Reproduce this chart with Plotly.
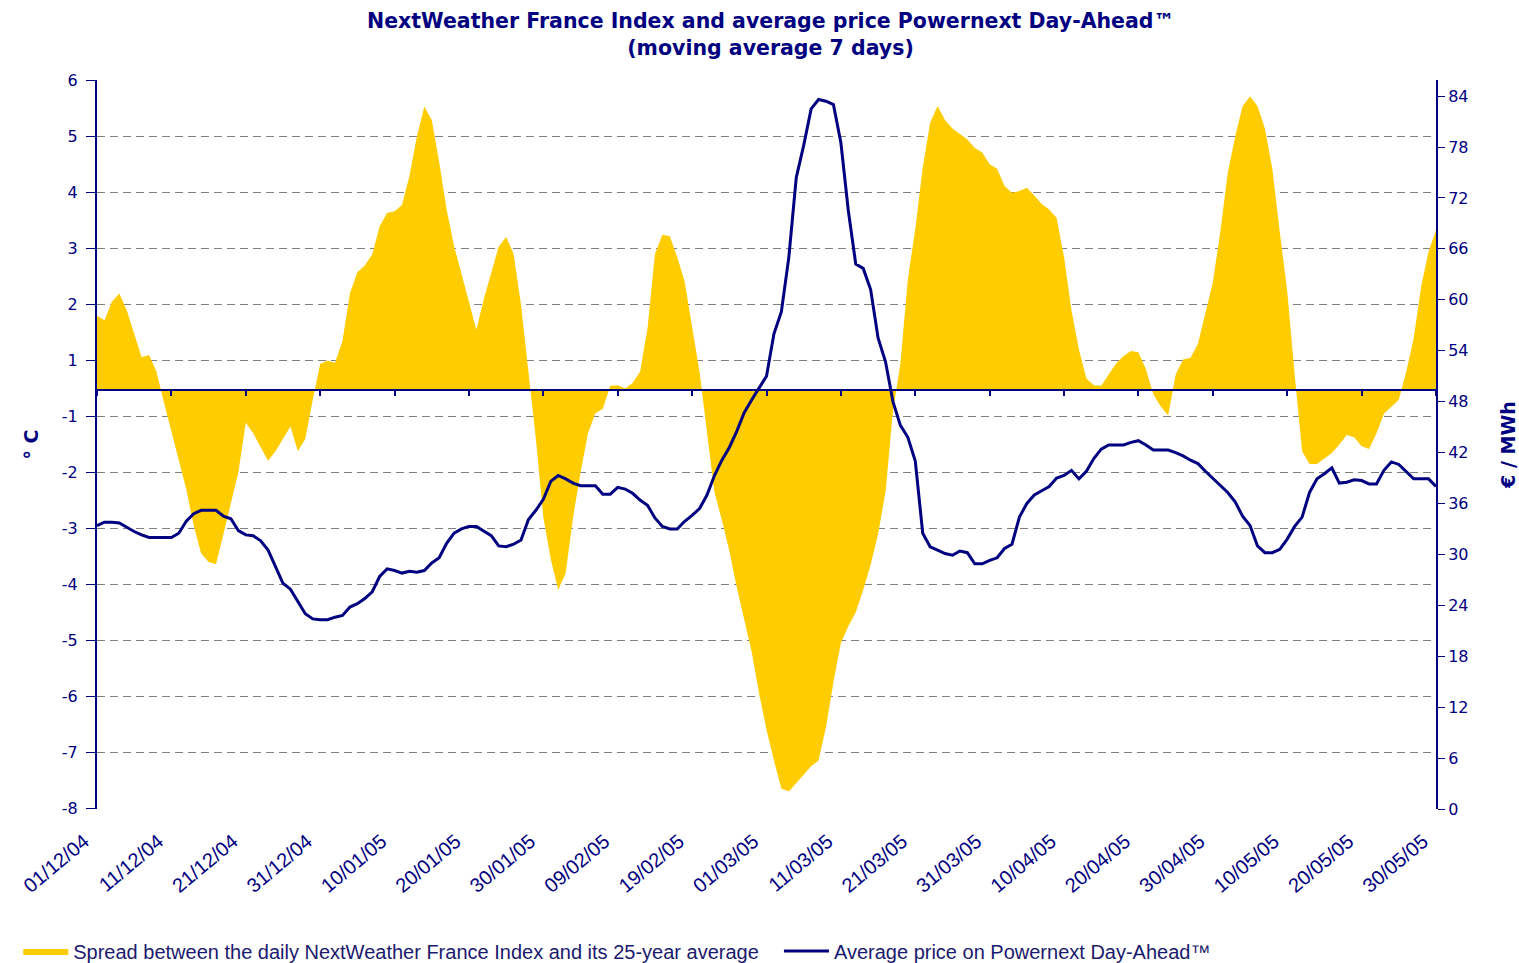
"""
NextWeather France Index spread vs. Powernext Day-Ahead average price
(7-day moving averages), Dec 2004 - May 2005.
"""

import pandas as pd
import plotly.graph_objects as go

NAVY = "#000080"
YELLOW = "#FFCC00"
GRID = "#808080"

# one reading per day, 01/12/2004 .. 30/05/2005
dates = pd.date_range("2004-12-01", "2005-05-30", freq="D")

# spread, read against the chart's left scale (the zero line sits half a
# grid step below "1"; the axis labels skip 0, see TEMP_TICKTEXT)
spread = [
    1.80, 1.72, 2.05, 2.20, 1.90, 1.48, 1.06, 1.10, 0.80, 0.25,
    -0.25, -0.75, -1.30, -1.95, -2.45, -2.60, -2.64, -2.10, -1.55, -1.00,
    -0.11, -0.30, -0.55, -0.79, -0.62, -0.40, -0.18, -0.62, -0.40, 0.30,
    0.94, 1.00, 0.96, 1.35, 2.20, 2.58, 2.70, 2.90, 3.40, 3.64,
    3.67, 3.78, 4.30, 5.00, 5.54, 5.30, 4.55, 3.70, 3.05, 2.55,
    2.05, 1.55, 2.10, 2.55, 3.04, 3.21, 2.91, 2.00, 0.80, -0.40,
    -1.80, -2.55, -3.10, -2.80, -1.80, -1.00, -0.30, 0.06, 0.14, 0.55,
    0.56, 0.50, 0.60, 0.80, 1.57, 2.90, 3.25, 3.22, 2.85, 2.41,
    1.60, 0.80, -0.28, -1.35, -1.85, -2.40, -3.05, -3.60, -4.20, -4.95,
    -5.60, -6.15, -6.65, -6.70, -6.55, -6.40, -6.25, -6.15, -5.55, -4.75,
    -4.05, -3.75, -3.50, -3.10, -2.65, -2.10, -1.35, 0.10, 0.95, 2.45,
    3.35, 4.45, 5.25, 5.55, 5.30, 5.15, 5.05, 4.95, 4.80, 4.72,
    4.51, 4.43, 4.12, 4.00, 4.03, 4.09, 3.95, 3.80, 3.70, 3.55,
    2.85, 1.90, 1.20, 0.68, 0.56, 0.55, 0.75, 0.95, 1.08, 1.17,
    1.15, 0.85, 0.40, 0.18, 0.02, 0.75, 1.02, 1.05, 1.30, 1.85,
    2.40, 3.30, 4.35, 5.00, 5.55, 5.72, 5.55, 5.15, 4.43, 3.30,
    2.24, 0.75, -0.62, -0.85, -0.85, -0.75, -0.65, -0.50, -0.33, -0.37,
    -0.53, -0.58, -0.30, 0.05, 0.18, 0.30, 0.80, 1.40, 2.32, 2.95,
    3.33,
]

# average Powernext Day-Ahead price, EUR/MWh
price = [
    33.4, 33.8, 33.8, 33.7, 33.2, 32.7, 32.3, 32.0, 32.0, 32.0,
    32.0, 32.5, 33.9, 34.8, 35.2, 35.2, 35.2, 34.5, 34.2, 32.8,
    32.3, 32.2, 31.6, 30.5, 28.5, 26.6, 25.9, 24.5, 23.0, 22.4,
    22.3, 22.3, 22.6, 22.8, 23.8, 24.2, 24.8, 25.6, 27.4, 28.3,
    28.1, 27.8, 28.0, 27.9, 28.1, 29.0, 29.6, 31.3, 32.5, 33.0,
    33.3, 33.3, 32.8, 32.2, 31.0, 30.9, 31.2, 31.7, 34.1, 35.2,
    36.5, 38.6, 39.3, 38.9, 38.4, 38.1, 38.1, 38.1, 37.1, 37.1,
    37.9, 37.7, 37.2, 36.4, 35.8, 34.3, 33.3, 33.0, 33.0, 33.9,
    34.6, 35.4, 37.0, 39.3, 41.1, 42.6, 44.5, 46.7, 48.2, 49.6,
    51.0, 56.0, 58.6, 65.0, 74.4, 78.2, 82.5, 83.6, 83.4, 83.0,
    78.5, 70.5, 64.2, 63.7, 61.2, 55.5, 52.7, 48.0, 45.2, 43.8,
    41.0, 32.5, 30.9, 30.5, 30.1, 29.9, 30.4, 30.2, 28.9, 28.9,
    29.3, 29.6, 30.7, 31.2, 34.4, 36.0, 37.0, 37.5, 38.0, 39.0,
    39.3, 39.9, 38.9, 39.8, 41.3, 42.4, 42.9, 42.9, 42.9, 43.2,
    43.4, 42.9, 42.3, 42.3, 42.3, 42.0, 41.6, 41.1, 40.7, 39.8,
    39.0, 38.1, 37.3, 36.2, 34.5, 33.4, 31.0, 30.2, 30.2, 30.6,
    31.8, 33.3, 34.4, 37.3, 38.9, 39.5, 40.2, 38.4, 38.5, 38.8,
    38.7, 38.3, 38.3, 39.9, 40.9, 40.6, 39.7, 38.9, 38.9, 38.9,
    38.0,
]

TEMP_TICKVALS = [6, 5, 4, 3, 2, 1, 0, -1, -2, -3, -4, -5, -6, -7]
TEMP_TICKTEXT = ["6", "5", "4", "3", "2", "1", "-1", "-2", "-3", "-4", "-5", "-6", "-7", "-8"]
ZERO_LINE = 0.48
TEMP_RANGE = [-7.015, 6.015]
PRICE_RANGE = [0, 85.9]

fig = go.Figure()

# invisible baseline so the area fills to the zero line
fig.add_trace(go.Scatter(
    x=dates, y=[ZERO_LINE] * len(dates), mode="lines",
    line=dict(width=0, color=YELLOW), showlegend=False, hoverinfo="skip",
))
fig.add_trace(go.Scatter(
    x=dates, y=spread, mode="lines", fill="tonexty",
    fillcolor=YELLOW, line=dict(width=0, color=YELLOW),
    name="Spread between the daily NextWeather France Index and its 25-year average",
))
# same baseline on the overlaid category axis, so that axis gets drawn
fig.add_trace(go.Scatter(
    x=dates, y=[ZERO_LINE] * len(dates), mode="lines", xaxis="x2",
    line=dict(width=0, color=YELLOW), showlegend=False, hoverinfo="skip",
))
fig.add_trace(go.Scatter(
    x=dates, y=price, mode="lines", yaxis="y2", legend="legend2",
    line=dict(color=NAVY, width=3),
    name="Average price on Powernext Day-Ahead™",
))

tick_font = dict(family="DejaVu Sans", size=16, color=NAVY)
title_font = dict(family="DejaVu Sans", size=19, color=NAVY, weight="bold")
legend_font = dict(family="Liberation Sans", size=20, color="#1A1A6E")
x_range = [dates[0], dates[-1]]

fig.update_layout(
    width=1519, height=963,
    paper_bgcolor="white", plot_bgcolor="white",
    margin=dict(l=97, r=83, t=80, b=154, autoexpand=False),
    annotations=[dict(
        text="NextWeather France Index and average price Powernext Day-Ahead™<br>(moving average 7 days)",
        xref="paper", yref="paper", x=0.503, y=1.062,
        xanchor="center", yanchor="middle", showarrow=False,
        font=dict(family="DejaVu Sans", size=20.5, color=NAVY, weight="bold"),
    )],
    xaxis=dict(
        range=x_range, tick0="2004-12-01", dtick=864000000,
        tickformat="%d/%m/%y", tickangle=-40,
        tickfont=dict(family="Liberation Sans", size=20, color=NAVY),
        ticklabelshift=-13,
        showgrid=False, zeroline=False, showline=False,
        ticks="outside", ticklen=12, tickcolor="rgba(0,0,0,0)",
    ),
    # category axis crossing at the zero line, with its tick marks
    xaxis2=dict(
        range=x_range, tick0="2004-12-01", dtick=864000000,
        overlaying="x", anchor="free",
        position=(ZERO_LINE - TEMP_RANGE[0]) / (TEMP_RANGE[1] - TEMP_RANGE[0]),
        showline=True, linecolor=NAVY, linewidth=2,
        ticks="outside", ticklen=5, tickwidth=2, tickcolor=NAVY,
        showticklabels=False, showgrid=False, zeroline=False,
    ),
    yaxis=dict(
        range=TEMP_RANGE, tickvals=TEMP_TICKVALS, ticktext=TEMP_TICKTEXT,
        tickfont=tick_font, ticklabelstandoff=5,
        showgrid=True, gridcolor=GRID, griddash="8px,5px", gridwidth=1,
        zeroline=False, showline=True, linecolor=NAVY, linewidth=2,
        ticks="outside", ticklen=9, tickcolor=NAVY, tickwidth=1,
        title=dict(text="° C", font=title_font, standoff=18),
    ),
    yaxis2=dict(
        range=PRICE_RANGE, tick0=0, dtick=6, overlaying="y", side="right",
        tickfont=tick_font, showgrid=False, zeroline=False,
        showline=True, linecolor=NAVY, linewidth=2,
        ticks="outside", ticklen=7, tickcolor=NAVY, tickwidth=1,
        title=dict(text="€ / MWh", font=title_font, standoff=36),
    ),
    legend=dict(
        orientation="h",
        xref="container", x=0.012, xanchor="left",
        yref="container", y=0.0125, yanchor="middle",
        font=legend_font, bgcolor="rgba(0,0,0,0)", itemwidth=45,
    ),
    legend2=dict(
        orientation="h",
        xref="container", x=0.5128, xanchor="left",
        yref="container", y=0.0125, yanchor="middle",
        font=legend_font, bgcolor="rgba(0,0,0,0)", itemwidth=45,
    ),
    showlegend=True,
)

fig.write_html(
    "out.html",
    config={"displayModeBar": False},
    post_script="document.body.style.margin='0';",
)
